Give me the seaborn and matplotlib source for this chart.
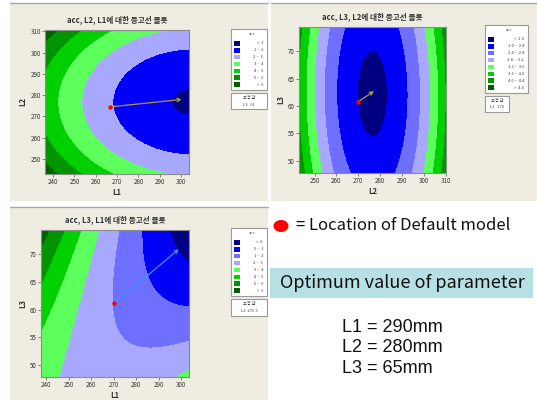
import numpy as np
import seaborn as sns
import matplotlib.pyplot as plt
from matplotlib.patches import Rectangle, Ellipse

W, H = 537, 403

# Contour crossings (x, y, acc level)
# panel 1: acc vs L1 (x) and L2 (y), L3 held at 61
p1_L1 = [295.5, 298.6, 298.6, 303.6, 303.6,
         267.8, 283.8, 283.8, 303.6, 303.6,
         253.3, 289.2, 290.0,
         242.8, 265.8, 266.6,
         235.5, 249.4, 251.0,
         242.2, 236.3, 236.3]
p1_L2 = [277.1, 281.9, 272.5, 283.0, 271.2,
         275.2, 296.3, 257.1, 301.4, 251.9,
         277.5, 310.6, 243.0,
         277.5, 310.6, 243.0,
         277.0, 310.6, 243.0,
         310.6, 305.8, 253.6]
p1_acc = [1, 1, 1, 1, 1,
          2, 2, 2, 2, 2,
          3, 3, 3,
          4, 4, 4,
          5, 5, 5,
          6, 6, 6]

# panel 2: acc vs L2 (x) and L3 (y), L1 held at 270
p2_L2 = [269.6, 284.9, 259.6, 291.7, 254.3, 297.8, 249.2, 304.0, 246.6, 307.0, 244.6, 310.0,
         277.0, 277.0, 263.8, 288.3, 266.0, 286.8]
p2_L3 = [61, 61, 61, 61, 61, 61, 61, 61, 61, 61, 61, 61,
         70.0, 56.5, 74.4, 74.4, 47.8, 47.8]
p2_acc = [2.0, 2.0, 2.4, 2.4, 2.8, 2.8, 3.2, 3.2, 3.6, 3.6, 4.0, 4.0,
          2.0, 2.0, 2.4, 2.4, 2.4, 2.4]

# panel 3: acc vs L1 (x) and L3 (y), L2 held at 276.5
p3_L1 = [294.8, 297.5, 300.5, 303.6,
         282.4, 283.0, 284.3, 288.0, 292.5, 298.5, 303.6,
         272.0, 271.3, 270.2, 271.0, 274.0, 279.1, 286.6, 295.5, 303.6,
         264.1, 255.0, 245.8, 298.5, 303.6,
         256.3, 237.9, 249.2, 237.9, 242.8, 237.9]
p3_L3 = [74.4, 72.0, 69.5, 68.2,
         74.4, 70.0, 66.2, 63.8, 62.3, 61.1, 60.6,
         74.4, 69.3, 61.2, 57.0, 54.6, 53.3, 52.7, 53.1, 54.4,
         74.4, 61.0, 47.8, 47.8, 49.3,
         74.4, 55.4, 74.4, 63.6, 74.4, 68.7]
p3_acc = [0, 0, 0, 0,
          1, 1, 1, 1, 1, 1, 1,
          2, 2, 2, 2, 2, 2, 2, 2, 2,
          3, 3, 3, 3, 3,
          4, 4, 5, 5, 6, 6]

# default model location and optimum direction (arrow) per panel
p1_default, p1_opt = (266.7, 274.5), (300.3, 278.0)
p2_default, p2_opt = (270.0, 60.8), (277.2, 62.7)
p3_default, p3_opt = (270.2, 61.1), (299.0, 70.9)

levels7 = [1, 2, 3, 4, 5, 6]
labels7 = ["<  1", "1 –  2", "2 –  3", "3 –  4", "4 –  5", "5 –  6", ">  6"]
levels8a = [2.0, 2.4, 2.8, 3.2, 3.6, 4.0, 4.4]
labels8a = ["<  2.0", "2.0 –  2.4", "2.4 –  2.8", "2.8 –  3.2",
            "3.2 –  3.6", "3.6 –  4.0", "4.0 –  4.4", ">  4.4"]
levels8b = [0, 1, 2, 3, 4, 5, 6]
labels8b = ["<  0", "0 –  1", "1 –  2", "2 –  3", "3 –  4", "4 –  5", "5 –  6", ">  6"]

cols7 = sns.color_palette(["#000080", "#0000F8", "#A8A8FF", "#5CFF5C",
                           "#00D000", "#009400", "#006000"])
cols8 = sns.color_palette(["#000080", "#0000F8", "#6E6EFF", "#A8A8FF", "#5CFF5C",
                           "#00D000", "#009400", "#006000"])

sns.set_theme(style="white")
plt.rcParams['font.family'] = ['Noto Sans CJK KR', 'DejaVu Sans']

BEIGE = "#EFECE2"


def fit_surface(x, y, z, xlim, ylim, k):
    # weighted quadratic response surface; inner (low) contours weigh more
    x = np.asarray(x, float)
    y = np.asarray(y, float)
    z = np.asarray(z, float)
    mx, my = np.mean(x), np.mean(y)
    sx, sy = np.std(x), np.std(y)

    def design(u, v):
        u = (u - mx) / sx
        v = (v - my) / sy
        return np.column_stack([np.ones_like(u), u, v, u * u, v * v, u * v])

    w = np.exp(-k * (z - z.min()) / (z.max() - z.min()))
    coef, *_ = np.linalg.lstsq(design(x, y) * w[:, None], z * w, rcond=None)
    gx, gy = np.meshgrid(np.linspace(*xlim, 300), np.linspace(*ylim, 300))
    gz = (design(gx.ravel(), gy.ravel()) @ coef).reshape(gx.shape)
    return gx, gy, gz


fig = plt.figure(figsize=(W / 100, H / 100), dpi=100)
fig.patch.set_facecolor("white")

ov = fig.add_axes([0, 0, 1, 1], zorder=-1)
ov.set_xlim(0, W)
ov.set_ylim(H, 0)
ov.axis("off")

# screenshot backgrounds
for x0, y0, x1, y1 in [(10, 3, 268, 201), (271, 3, 537, 201), (10, 207, 268, 400)]:
    ov.add_patch(Rectangle((x0, y0), x1 - x0, y1 - y0, color=BEIGE, lw=0))
    ov.plot([x0, x1], [y0, y0], color="#A8A8A8", lw=1)


def px_axes(x0, y0, x1, y1):
    return fig.add_axes([x0 / W, 1 - y1 / H, (x1 - x0) / W, (y1 - y0) / H])


def contour_panel(rect, data, xlim, ylim, levels, colors, xticks, yticks,
                  xlabel, ylabel, title, default, opt, arrow_col, k):
    ax = px_axes(*rect)
    gx, gy, gz = fit_surface(*data, xlim, ylim, k)
    lev = [gz.min() - 10] + levels + [gz.max() + 10]
    ax.contourf(gx, gy, gz, levels=lev, colors=colors)
    ax.set_xlim(xlim)
    ax.set_ylim(ylim)
    ax.set_xticks(xticks)
    ax.set_yticks(yticks)
    ax.tick_params(labelsize=4.5, length=2, width=0.5, pad=1, colors="#555555",
                   labelcolor="#333333", bottom=True, left=True)
    for s in ax.spines.values():
        s.set_color("#8C8C8C")
        s.set_linewidth(0.8)
    ax.set_xlabel(xlabel, fontsize=5.5, labelpad=1, fontweight="bold", color="#333333")
    ax.set_ylabel(ylabel, fontsize=5.5, labelpad=2, fontweight="bold", color="#333333")
    ax.set_title(title, fontsize=5.5, pad=6, fontweight="bold", color="#333333")
    ax.annotate("", xy=opt, xytext=default,
                arrowprops=dict(arrowstyle="->", color=arrow_col, lw=0.9,
                                mutation_scale=6, shrinkA=0, shrinkB=0))
    ax.scatter([default[0]], [default[1]], s=10, color="red", zorder=5, lw=0)
    return ax


contour_panel((45, 30, 189, 174), (p1_L1, p1_L2, p1_acc), (236.2, 303.7), (243.0, 310.6),
              levels7, cols7, range(240, 301, 10), range(250, 311, 10), "L1", "L2",
              "acc, L2, L1에 대한 등고선 플롯", p1_default, p1_opt, "#A8A040", 5.0)
contour_panel((299, 27, 446, 173), (p2_L2, p2_L3, p2_acc), (242.9, 310.1), (47.8, 74.4),
              levels8a, cols8, range(250, 311, 10), range(50, 71, 5), "L2", "L3",
              "acc, L3, L2에 대한 등고선 플롯", p2_default, p2_opt, "#A8A040", 1.0)
contour_panel((41, 230, 189, 377), (p3_L1, p3_L3, p3_acc), (237.6, 303.6), (47.8, 74.4),
              levels8b, cols8, range(240, 301, 10), range(50, 71, 5), "L1", "L3",
              "acc, L3, L1에 대한 등고선 플롯", p3_default, p3_opt, "#3399FF", 5.0)


def legend_box(x0, y0, x1, y1, labels, colors, hold, hold_box):
    ov.add_patch(Rectangle((x0, y0), x1 - x0, y1 - y0, facecolor="white",
                           edgecolor="#999999", lw=0.8))
    ov.text((x0 + x1) / 2 + 3, y0 + 5, "acc", fontsize=3, ha="center", va="center",
            color="#444444")
    n = len(labels)
    step = (y1 - y0 - 13) / n
    for i, (lab, c) in enumerate(zip(labels, colors)):
        yc = y0 + 11 + step * (i + 0.5)
        ov.add_patch(Rectangle((x0 + 2.5, yc - 2.3), 6.5, 4.6, color=c, lw=0))
        ov.text(x1 - 4, yc, lab, fontsize=3, ha="right", va="center", color="#444444")
    hx0, hy0, hx1, hy1 = hold_box
    ov.add_patch(Rectangle((hx0, hy0), hx1 - hx0, hy1 - hy0, facecolor="white",
                           edgecolor="#999999", lw=0.8))
    ov.text((hx0 + hx1) / 2, hy0 + 4.5, "고정 값", fontsize=3, ha="center", va="center",
            color="#444444")
    ov.text((hx0 + hx1) / 2, hy0 + 11.5, hold, fontsize=3, ha="center", va="center",
            color="#444444")


legend_box(231, 29, 267, 90, labels7, cols7, "L3   61", (231, 93, 267, 109))
legend_box(485, 25, 528, 93, labels8a, cols8, "L1   270", (485, 96, 509, 112))
legend_box(231, 228, 267, 296, labels8b, cols8, "L2  276.5", (231, 299, 267, 316))

# annotation text on the right
ov.add_patch(Ellipse((281, 226), 15, 12, color="red", lw=0))
ov.text(296, 226, "= Location of Default model", fontsize=12,
        ha="left", va="center", color="#111111")
ov.add_patch(Rectangle((270, 268), 263, 30, color="#B7E0E4", lw=0))
ov.text(280, 283, "Optimum value of parameter", fontsize=13,
        ha="left", va="center", color="#111111")
for yy, txt in [(327, "L1 = 290mm"), (347, "L2 = 280mm"), (368.5, "L3 = 65mm")]:
    ov.text(342, yy, txt, fontsize=13, family=['Liberation Sans', 'DejaVu Sans'],
            ha="left", va="center", color="#111111")

fig.savefig("out.png", dpi=100)
